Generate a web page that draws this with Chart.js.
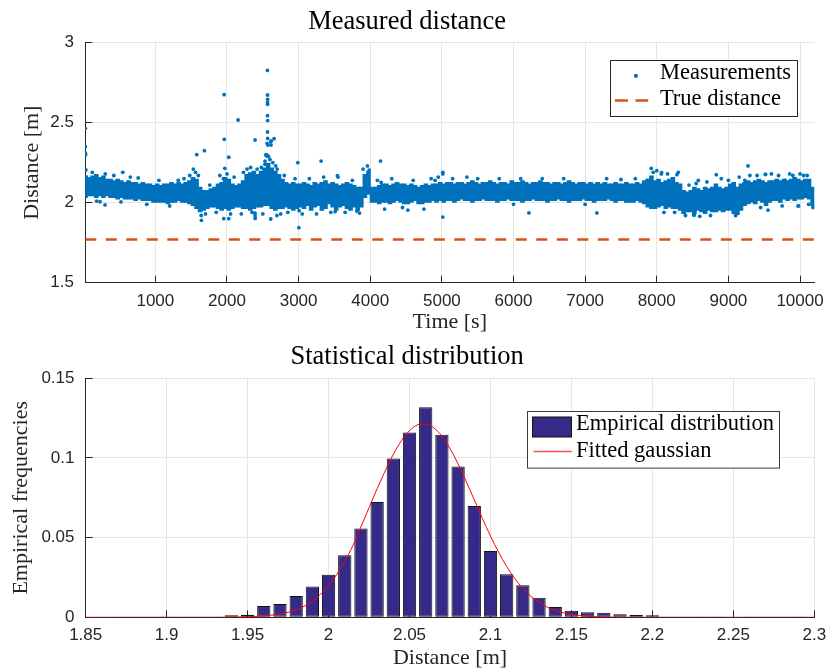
<!DOCTYPE html>
<html>
<head>
<meta charset="utf-8">
<script src="https://cdn.jsdelivr.net/npm/chart.js@4.4.1/dist/chart.umd.min.js"></script>
<style>
    html, body { margin: 0; padding: 0; background: #fff; }
    #wrap { position: relative; width: 827px; height: 671px; }
    canvas { position: absolute; left: 0; }
    #topChart { top: 0; }
    #bottomChart { top: 335px; }
</style>
</head>
<body>
<div id="wrap">
    <canvas id="topChart" width="827" height="335"></canvas>
    <canvas id="bottomChart" width="827" height="336"></canvas>
</div>
<script>
// ---- Measured distance (top) ----
var timeMin = 22, timeMax = 10199;
var timeTicks = [1000, 2000, 3000, 4000, 5000, 6000, 7000, 8000, 9000, 10000];
var timeTickLabels = ['1000', '2000', '3000', '4000', '5000', '6000', '7000', '8000', '9000', '10000'];
var distTicks = [1.5, 2, 2.5, 3];
var distTickLabels = ['1.5', '2', '2.5', '3'];
var trueDistance = 1.77;

// dense band of measurements, one entry per 50 s bin (lowest / highest reading in the bin)
var bandStep = 50;
var bandLow = [
    2.03, 2.04, 2.04, 2.03, 2.04, 2.03, 2.04,
    2.03, 2.03, 2.02, 2.03, 2.02, 2.02, 2.02, 2.01, 2.02, 2.01, 2.01, 2.01, 2.00,
    2.00, 2.00, 2.00, 1.99, 2.00, 2.00, 2.01, 2.00, 2.00, 1.99,
    1.98, 1.96, 1.94, 1.95, 1.96, 1.97,
    1.97, 1.96, 1.95, 1.96, 1.95, 1.96, 1.97, 1.97, 1.96,
    1.96, 1.95, 1.96, 1.97, 1.97, 1.98,
    1.98, 1.96, 1.95,
    1.96, 1.96, 1.97, 1.96, 1.95, 1.96,
    1.97, 1.96, 1.98, 1.95, 1.97, 1.98, 1.95, 1.96, 1.99, 1.97, 1.95, 1.97, 1.98, 1.96, 1.95, 1.97, 1.95, 1.97,
    2.03, 2.05, 2.00,
    2.00, 1.99, 2.00, 2.00, 1.99, 2.00, 2.01, 2.00, 1.99, 1.99, 2.00, 2.01, 1.99, 1.99, 2.00, 2.00, 2.01, 2.00, 2.01,
    2.00, 2.01, 2.01, 2.00, 2.01, 2.02, 2.01, 2.01, 2.00, 2.01,
    2.01, 2.02, 2.01, 2.01, 2.01, 2.00, 2.01, 2.01, 2.02, 2.01,
    2.01, 2.01, 2.00, 2.01, 2.01, 2.02, 2.01, 2.01, 2.01, 2.00,
    2.01, 2.01, 2.02, 2.01, 2.01, 2.00, 2.01, 2.01, 2.01, 2.02,
    2.01, 2.01, 2.00, 2.01, 2.01, 2.01, 2.02, 2.01, 2.00, 2.01,
    2.01, 2.00,
    2.00, 2.00, 2.01, 2.00, 1.99,
    1.97, 1.96, 1.96, 1.97, 1.98, 1.96, 1.97, 1.96, 1.96, 1.95,
    1.93, 1.94, 1.94, 1.93, 1.95, 1.94, 1.93, 1.95, 1.94, 1.94, 1.95, 1.94, 1.95,
    1.95, 1.93, 1.94, 1.95, 1.98,
    1.99, 2.00, 1.99, 2.01, 2.00, 1.98, 2.00, 2.01, 2.01, 2.00, 2.02, 2.01, 2.02, 2.01, 2.02, 2.02, 2.03, 2.02,
    1.98
];
var bandHigh = [
    2.17, 2.16, 2.17, 2.18, 2.16, 2.17, 2.15,
    2.15, 2.14, 2.15, 2.14, 2.13, 2.14, 2.13, 2.13, 2.12, 2.13, 2.12, 2.12, 2.11,
    2.12, 2.11, 2.12, 2.12, 2.13, 2.12, 2.13, 2.12, 2.13, 2.14,
    2.16, 2.15, 2.10, 2.08, 2.08, 2.09,
    2.10, 2.12, 2.13, 2.16, 2.15, 2.12, 2.11, 2.12, 2.14,
    2.18, 2.19, 2.20, 2.18, 2.20, 2.22,
    2.25, 2.22, 2.20,
    2.18, 2.15, 2.13, 2.12, 2.13, 2.12,
    2.12, 2.13, 2.12, 2.11, 2.13, 2.12, 2.13, 2.14, 2.12, 2.13, 2.12, 2.11, 2.12, 2.13, 2.12, 2.11, 2.10, 2.10,
    2.18, 2.20, 2.10,
    2.10, 2.11, 2.12, 2.12, 2.11, 2.12, 2.13, 2.12, 2.12, 2.11, 2.12, 2.11, 2.10, 2.11, 2.12, 2.11, 2.12, 2.12, 2.13,
    2.12, 2.13, 2.13, 2.12, 2.13, 2.13, 2.12, 2.13, 2.14, 2.13,
    2.12, 2.13, 2.13, 2.14, 2.13, 2.12, 2.13, 2.13, 2.12, 2.14,
    2.13, 2.13, 2.14, 2.13, 2.12, 2.13, 2.13, 2.14, 2.13, 2.13,
    2.12, 2.13, 2.13, 2.12, 2.13, 2.14, 2.13, 2.12, 2.13, 2.13,
    2.12, 2.13, 2.12, 2.13, 2.12, 2.13, 2.12, 2.12, 2.13, 2.12,
    2.12, 2.13,
    2.12, 2.12, 2.13, 2.12, 2.14,
    2.15, 2.17, 2.14, 2.15, 2.13, 2.14, 2.15, 2.16, 2.13, 2.12,
    2.08, 2.07, 2.08, 2.10, 2.09, 2.08, 2.10, 2.09, 2.10, 2.12, 2.10, 2.09, 2.10,
    2.12, 2.13, 2.10, 2.12, 2.13,
    2.14, 2.13, 2.14, 2.15, 2.14, 2.13, 2.14, 2.14, 2.15, 2.14, 2.15, 2.14, 2.15, 2.16, 2.15, 2.14, 2.15, 2.15,
    2.10
];

// scattered readings around and outside the band
var outTime = [
    22, 22, 24, 26, 30, 34, 228, 297, 545,
    1578, 1685, 1643, 1960, 1962, 1970, 2025, 1955, 2025, 2155, 2392, 2392, 2394,
    2565, 2566, 2567, 2566, 2567, 2566, 2567, 2566, 2568, 2560, 2570, 2610, 2615, 2658, 2555, 2560, 2611, 2697,
    2989, 3003, 3314, 4143, 3985,
    4906, 5013, 5013, 5013, 5349, 6215, 7164, 7871, 7923, 8063, 8282, 8514, 8831, 9134, 9230, 9273, 9515, 9553,
    9790, 9855, 9972, 10050, 10190,
    120, 180, 300, 420, 520, 650, 760, 880, 1050, 1200, 1320, 1400, 1480, 1530, 1560, 1600, 1640, 1700, 1760,
    1850, 1900, 1950, 2000, 2050, 2100, 2200, 2230, 2280, 2330, 2350, 2420, 2480, 2500, 2530, 2580, 2600, 2640,
    2680, 2700, 2750, 2800, 2850, 2950, 3050, 3150, 3250, 3350, 3450, 3550, 3650, 3750, 3850, 3900, 3960, 4100,
    4200, 4300, 4450, 4600, 4750, 4850, 4950, 5150, 5500, 5800, 6000, 6100, 6400, 6700, 7000, 7300, 7500, 7700,
    7950, 8000, 8100, 8150, 8250, 8300, 8400, 8450, 8550, 8600, 8700, 8750, 8900, 9000, 9100, 9150, 9300, 9400,
    9450, 9600, 9700, 9750, 9900, 10000, 10100, 10120, 10180,
    2542, 2530, 2620, 2392, 3007, 3542, 4152, 3510, 3813, 4525, 8067, 8580, 8524, 9095, 9519, 9980
];
var outDist = [
    2.465, 2.35, 2.31, 2.30, 2.205, 2.16, 2.006, 1.986, 2.19,
    2.30, 2.325, 1.89, 2.675, 2.396, 2.215, 2.284, 1.90, 1.90, 2.517, 2.392, 1.934, 1.902,
    2.827, 2.673, 2.646, 2.627, 2.615, 2.544, 2.513, 2.442, 2.402, 2.37, 2.36, 2.38, 2.36, 2.40, 2.30, 2.29, 1.898, 1.92,
    2.25, 1.844, 2.26, 2.26, 2.204,
    2.14, 2.19, 2.18, 1.91, 2.16, 1.936, 1.936, 2.14, 2.215, 2.18, 2.175, 1.923, 2.175, 1.934, 2.14, 2.23, 2.177, 1.954,
    2.14, 2.18, 1.98, 2.17, 1.975,
    2.19, 2.01, 2.18, 2.17, 2.005, 2.16, 2.155, 1.99, 2.14, 1.98, 2.14, 2.15, 2.17, 2.21, 2.19, 2.17, 1.92, 1.93, 2.11,
    1.94, 2.17, 2.15, 2.18, 1.93, 2.16, 1.93, 2.19, 2.21, 2.22, 1.94, 2.21, 2.22, 1.93, 2.26, 2.29, 2.27, 2.25,
    2.23, 2.21, 1.93, 2.17, 1.94, 2.15, 1.93, 2.15, 1.93, 2.16, 1.94, 2.16, 1.94, 2.14, 1.935, 2.21, 2.23, 2.14,
    1.96, 2.15, 1.97, 2.14, 1.96, 2.15, 2.16, 2.15, 2.15, 2.15, 1.99, 2.15, 2.15, 2.15, 1.99, 2.15, 2.145, 2.15,
    2.19, 2.20, 1.94, 2.18, 1.94, 2.19, 1.92, 2.11, 2.12, 1.915, 2.13, 1.92, 2.15, 2.14, 1.92, 2.16, 2.17, 2.17,
    1.97, 2.18, 2.17, 1.98, 2.17, 2.18, 2.17, 1.99, 1.97,
    2.298, 2.24, 2.387, 1.917, 1.95, 2.169, 2.127, 1.944, 1.948, 1.954, 2.188, 2.14, 1.923, 1.938, 2.177, 1.98
];

// ---- Statistical distribution (bottom) ----
var histMin = 1.85, histMax = 2.3;
var histTicks = [1.85, 1.9, 1.95, 2, 2.05, 2.1, 2.15, 2.2, 2.25, 2.3];
var histTickLabels = ['1.85', '1.9', '1.95', '2', '2.05', '2.1', '2.15', '2.2', '2.25', '2.3'];
var freqTicks = [0, 0.05, 0.1, 0.15];
var freqTickLabels = ['0', '0.05', '0.1', '0.15'];
var histBins = [
    1.86, 1.87, 1.88, 1.89, 1.90, 1.91, 1.92, 1.93, 1.94, 1.95, 1.96, 1.97, 1.98, 1.99,
    2.00, 2.01, 2.02, 2.03, 2.04, 2.05, 2.06, 2.07, 2.08, 2.09, 2.10, 2.11, 2.12, 2.13, 2.14,
    2.15, 2.16, 2.17, 2.18, 2.19, 2.20, 2.21, 2.22, 2.23, 2.24, 2.25, 2.26, 2.27, 2.28, 2.29
];
var histFreq = [
    0, 0, 0, 0, 0.0002, 0, 0.0003, 0, 0.0013, 0.0016, 0.0071, 0.0083, 0.0134, 0.0194,
    0.0267, 0.0389, 0.0558, 0.0723, 0.0997, 0.1160, 0.1319, 0.1145, 0.0947, 0.0698, 0.0416, 0.0270, 0.0201, 0.0123, 0.0065,
    0.0041, 0.0031, 0.0029, 0.0019, 0.0014, 0.0013, 0.0005, 0.0005, 0.0001, 0.0001, 0, 0.0001, 0.0002, 0.0002, 0.0001
];
var gaussX = [
    1.85, 1.93, 1.94, 1.95, 1.955, 1.96, 1.965, 1.97, 1.975, 1.98, 1.985, 1.99, 1.995,
    2.00, 2.005, 2.01, 2.015, 2.02, 2.025, 2.03, 2.035, 2.04, 2.045, 2.05, 2.055, 2.06,
    2.065, 2.07, 2.075, 2.08, 2.085, 2.09, 2.095, 2.10, 2.105, 2.11, 2.115, 2.12, 2.125,
    2.13, 2.135, 2.14, 2.145, 2.15, 2.16, 2.17, 2.18, 2.19, 2.30
];
var gaussY = [
    0, 0.00003, 0.0001, 0.0003, 0.00055, 0.0009, 0.0014, 0.0020, 0.0031, 0.0047, 0.0070, 0.0101, 0.0144,
    0.0200, 0.0268, 0.0352, 0.0450, 0.0568, 0.0688, 0.0807, 0.0920, 0.1023, 0.1109, 0.1172, 0.1208, 0.1214,
    0.1189, 0.1137, 0.1059, 0.0963, 0.0853, 0.0737, 0.0621, 0.0510, 0.0409, 0.0319, 0.0243, 0.0181, 0.0131,
    0.0093, 0.0064, 0.0043, 0.0028, 0.0018, 0.0007, 0.0002, 0.00006, 0, 0
];

var SERIF = '"Liberation Serif", "Times New Roman", serif';
var SANS = '"Liberation Sans", Arial, sans-serif';
var AXIS = '#262626';
var GRID = '#e6e6e6';
var BLUE = '#0072BD';
var ORANGE = '#D95319';
var BAR = '#352A87';
var RED = '#ff0000';

Chart.defaults.font.family = SANS;
Chart.defaults.color = AXIS;

function fixedTicks(values) {
    return function (scale) {
        scale.ticks = values.map(function (v) { return { value: v }; });
    };
}
function tickLabel(values, labels) {
    return function (v) { return labels[values.indexOf(v)]; };
}
// keep the plot box where it is: no extra room for overhanging tick labels
function fixHeight(h) {
    return function (s) { s.height = h; s.paddingLeft = 0; s.paddingRight = 0; };
}
function fixWidth(w) {
    return function (s) { s.width = w; s.paddingTop = 0; s.paddingBottom = 0; };
}

// boxed legend drawn inside the plot area (top-right corner like the original)
function boxLegend(cfg) {
    return {
        id: 'boxLegend',
        afterDraw: function (chart) {
            var ctx = chart.ctx, area = chart.chartArea;
            ctx.save();
            ctx.font = '22.5px ' + SERIF;
            var textW = 0;
            cfg.items.forEach(function (it) { textW = Math.max(textW, ctx.measureText(it.text).width); });
            var w = Math.round(cfg.textOffset + textW + cfg.endPad);
            var x0 = Math.round(area.right - cfg.right - w) + 0.5;
            var y0 = Math.round(area.top + cfg.top) + 0.5;
            ctx.fillStyle = '#fff';
            ctx.fillRect(x0, y0, w, cfg.height);
            ctx.strokeStyle = cfg.border;
            ctx.lineWidth = 1;
            ctx.strokeRect(x0, y0, w, cfg.height);
            cfg.items.forEach(function (it) {
                ctx.save();
                it.symbol(ctx, x0, y0);
                ctx.restore();
                ctx.fillStyle = '#000';
                ctx.textAlign = 'left';
                ctx.textBaseline = 'middle';
                ctx.fillText(it.text, x0 + cfg.textOffset, y0 + it.textY);
            });
            ctx.restore();
        }
    };
}

function initTopChart() {
    var band = bandLow.map(function (lo, i) {
        return { x: bandStep / 2 + i * bandStep, y: [lo, bandHigh[i]] };
    });
    var points = outTime.map(function (t, i) { return { x: t, y: outDist[i] }; });

    new Chart(document.getElementById('topChart'), {
        type: 'bar',
        data: {
            datasets: [
                {
                    type: 'line', label: 'True distance',
                    data: [{ x: timeMin, y: trueDistance }, { x: timeMax, y: trueDistance }],
                    borderColor: ORANGE, borderWidth: 2.5, borderDash: [11, 9.5],
                    pointRadius: 0, order: 0
                },
                {
                    type: 'scatter', label: 'Measurements', data: points,
                    backgroundColor: BLUE, borderWidth: 0, pointRadius: 1.9, order: 1
                },
                {
                    type: 'bar', label: 'Measurements band', data: band,
                    backgroundColor: BLUE, borderWidth: 0,
                    barPercentage: 1.3, categoryPercentage: 1, order: 2
                }
            ]
        },
        options: {
            responsive: false,
            animation: false,
            layout: { padding: { left: 0, right: 12.7, top: 0, bottom: 0 } },
            plugins: {
                legend: { display: false },
                tooltip: { enabled: false },
                title: {
                    display: true, text: 'Measured distance', color: '#000',
                    font: { family: SERIF, size: 26.5, weight: 'normal', lineHeight: 1.2 },
                    padding: { top: 6.2, bottom: 4.7 }
                }
            },
            scales: {
                x: {
                    type: 'linear', min: timeMin, max: timeMax, offset: false,
                    afterBuildTicks: fixedTicks(timeTicks),
                    afterFit: fixHeight(52.3),
                    ticks: {
                        callback: tickLabel(timeTicks, timeTickLabels),
                        font: { size: 17 }, color: AXIS, padding: 15.1,
                        maxRotation: 0, autoSkip: false
                    },
                    grid: { color: GRID, offset: false, tickLength: -7, tickColor: AXIS },
                    border: { color: AXIS },
                    title: {
                        display: true, text: 'Time [s]', color: AXIS,
                        font: { family: SERIF, size: 22, lineHeight: 1.15 },
                        padding: { top: 0, bottom: 0 }
                    }
                },
                y: {
                    type: 'linear', min: 1.5, max: 3,
                    afterBuildTicks: fixedTicks(distTicks),
                    afterFit: fixWidth(85.3),
                    ticks: {
                        callback: tickLabel(distTicks, distTickLabels),
                        font: { size: 17 }, color: AXIS, padding: 18.3
                    },
                    grid: { color: GRID, tickLength: -7, tickColor: AXIS },
                    border: { color: AXIS },
                    title: {
                        display: true, text: 'Distance [m]', color: AXIS,
                        font: { family: SERIF, size: 22, lineHeight: 1.15 },
                        padding: { top: 19.3, bottom: 0 }
                    }
                }
            }
        },
        plugins: [boxLegend({
            right: 17, top: 17.3, height: 56, textOffset: 49.4, endPad: 6, border: AXIS,
            items: [
                {
                    text: 'Measurements', textY: 12.6,
                    symbol: function (ctx, x0, y0) {
                        ctx.fillStyle = BLUE;
                        ctx.beginPath();
                        ctx.arc(x0 + 25.4, y0 + 15.3, 2.1, 0, Math.PI * 2);
                        ctx.fill();
                    }
                },
                {
                    text: 'True distance', textY: 38.6,
                    symbol: function (ctx, x0, y0) {
                        ctx.strokeStyle = ORANGE;
                        ctx.lineWidth = 2.5;
                        ctx.beginPath();
                        ctx.moveTo(x0 + 4.4, y0 + 40); ctx.lineTo(x0 + 17.4, y0 + 40);
                        ctx.moveTo(x0 + 25, y0 + 40); ctx.lineTo(x0 + 37.7, y0 + 40);
                        ctx.stroke();
                    }
                }
            ]
        })]
    });
}

function initBottomChart() {
    new Chart(document.getElementById('bottomChart'), {
        type: 'bar',
        data: {
            datasets: [
                {
                    type: 'line', label: 'Fitted gaussian',
                    data: gaussX.map(function (x, i) { return { x: x, y: gaussY[i] }; }),
                    borderColor: RED, borderWidth: 1, pointRadius: 0,
                    cubicInterpolationMode: 'monotone', order: 0
                },
                {
                    type: 'bar', label: 'Empirical distribution',
                    data: histBins.map(function (b, i) { return { x: b, y: histFreq[i] }; }),
                    backgroundColor: BAR, borderColor: '#111', borderWidth: 1, borderSkipped: false,
                    barPercentage: 0.82, categoryPercentage: 1, order: 1
                }
            ]
        },
        options: {
            responsive: false,
            animation: false,
            layout: { padding: { left: 0, right: 12.7, top: 0, bottom: 0 } },
            plugins: {
                legend: { display: false },
                tooltip: { enabled: false },
                title: {
                    display: true, text: 'Statistical distribution', color: '#000',
                    font: { family: SERIF, size: 26.5, weight: 'normal', lineHeight: 1.2 },
                    padding: { top: 6.2, bottom: 5.3 }
                }
            },
            scales: {
                x: {
                    type: 'linear', min: histMin, max: histMax, offset: false,
                    afterBuildTicks: fixedTicks(histTicks),
                    afterFit: fixHeight(53.7),
                    ticks: {
                        callback: tickLabel(histTicks, histTickLabels),
                        font: { size: 17 }, color: AXIS, padding: 15.3,
                        maxRotation: 0, autoSkip: false
                    },
                    grid: { color: GRID, offset: false, tickLength: -7, tickColor: AXIS },
                    border: { color: AXIS },
                    title: {
                        display: true, text: 'Distance [m]', color: AXIS,
                        font: { family: SERIF, size: 22, lineHeight: 1.15 },
                        padding: { top: 0, bottom: 0 }
                    }
                },
                y: {
                    type: 'linear', min: 0, max: 0.15,
                    afterBuildTicks: fixedTicks(freqTicks),
                    afterFit: fixWidth(85.7),
                    ticks: {
                        callback: tickLabel(freqTicks, freqTickLabels),
                        font: { size: 17 }, color: AXIS, padding: 18.2
                    },
                    grid: { color: GRID, tickLength: -7, tickColor: AXIS },
                    border: { color: AXIS },
                    title: {
                        display: true, text: 'Empirical frequencies', color: AXIS,
                        font: { family: SERIF, size: 22, lineHeight: 1.15 },
                        padding: { top: 9, bottom: 0 }
                    }
                }
            }
        },
        plugins: [boxLegend({
            right: 35, top: 32.4, height: 56.6, textOffset: 48.4, endPad: 6, border: '#3a3a3a',
            items: [
                {
                    text: 'Empirical distribution', textY: 12.6,
                    symbol: function (ctx, x0, y0) {
                        ctx.fillStyle = BAR;
                        ctx.fillRect(x0 + 5, y0 + 5.5, 39, 20);
                        ctx.strokeStyle = '#111';
                        ctx.lineWidth = 1;
                        ctx.strokeRect(x0 + 5, y0 + 5.5, 39, 20);
                    }
                },
                {
                    text: 'Fitted gaussian', textY: 39.2,
                    symbol: function (ctx, x0, y0) {
                        ctx.setLineDash([]);
                        ctx.strokeStyle = '#ff4d4d';
                        ctx.lineWidth = 1.6;
                        ctx.beginPath();
                        ctx.moveTo(x0 + 6, y0 + 40);
                        ctx.lineTo(x0 + 44.4, y0 + 40);
                        ctx.stroke();
                    }
                }
            ]
        })]
    });
}

initTopChart();
initBottomChart();
</script>
</body>
</html>
